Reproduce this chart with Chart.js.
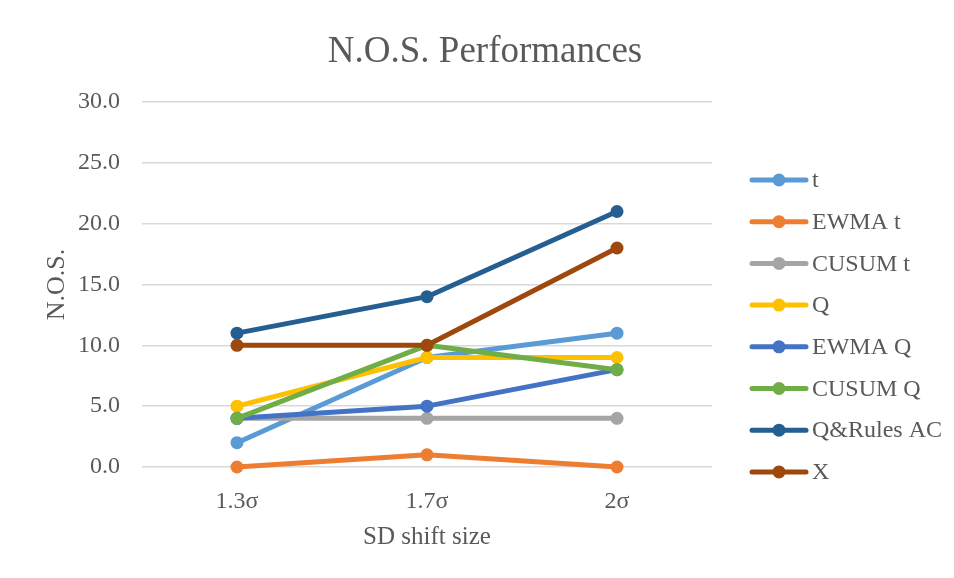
<!DOCTYPE html>
<html>
<head>
<meta charset="utf-8">
<script src="https://cdn.jsdelivr.net/npm/chart.js@4"></script>
<style>
  html, body { margin: 0; padding: 0; background: #fff; }
</style>
</head>
<body>
<canvas id="chartNos" width="954" height="578"></canvas>
<script>
const shiftSizes = ["1.3σ", "1.7σ", "2σ"];

const tValues = [2, 9, 11];
const ewmaTValues = [0, 1, 0];
const cusumTValues = [4, 4, 4];
const qValues = [5, 9, 9];
const ewmaQValues = [4, 5, 8];
const cusumQValues = [4, 10, 8];
const qRulesAcValues = [11, 14, 21];
const xValues = [10, 10, 18];

const seriesNames = ["t", "EWMA t", "CUSUM t", "Q", "EWMA Q", "CUSUM Q", "Q&Rules AC", "X"];
const seriesValues = [tValues, ewmaTValues, cusumTValues, qValues, ewmaQValues, cusumQValues, qRulesAcValues, xValues];
const seriesColors = ["#5B9BD5", "#ED7D31", "#A5A5A5", "#FFC000", "#4472C4", "#70AD47", "#255E91", "#9E480E"];

const serif = "'Liberation Serif', 'Times New Roman', serif";
const textColor = "#595959";
const gridColor = "#D9D9D9";

const whiteBackground = {
  id: "whiteBackground",
  beforeDraw(chart) {
    const { ctx, width, height } = chart;
    ctx.save();
    ctx.fillStyle = "#fff";
    ctx.fillRect(0, 0, width, height);
    ctx.restore();
  }
};

// legend to the right: line sample with a dot, then the name
const sideLegend = {
  id: "sideLegend",
  afterDraw(chart) {
    const { ctx } = chart;
    const x0 = chart.chartArea.right + 40;
    ctx.save();
    ctx.font = `24px ${serif}`;
    ctx.textBaseline = "middle";
    chart.data.datasets.forEach((ds, i) => {
      const y = 180 + i * 41.7;
      ctx.strokeStyle = ds.borderColor;
      ctx.lineWidth = 5;
      ctx.lineCap = "round";
      ctx.beginPath();
      ctx.moveTo(x0, y);
      ctx.lineTo(x0 + 54, y);
      ctx.stroke();
      ctx.fillStyle = ds.backgroundColor;
      ctx.beginPath();
      ctx.arc(x0 + 27, y, 6.5, 0, Math.PI * 2);
      ctx.fill();
      ctx.fillStyle = textColor;
      ctx.fillText(ds.label, x0 + 60, y + 1);
    });
    ctx.restore();
  }
};

const datasets = seriesNames.map((name, i) => ({
  label: name,
  data: seriesValues[i],
  borderColor: seriesColors[i],
  backgroundColor: seriesColors[i],
  borderWidth: 5,
  borderCapStyle: "round",
  borderJoinStyle: "round",
  pointRadius: 6.5,
  pointHoverRadius: 6.5,
  pointBorderWidth: 0,
  tension: 0,
  clip: false,
  order: -i  // later series sit on top
}));

new Chart(document.getElementById("chartNos"), {
  type: "line",
  data: { labels: shiftSizes, datasets },
  options: {
    responsive: false,
    animation: false,
    layout: { padding: { left: 16, right: 0, top: 0, bottom: 0 } },
    plugins: {
      legend: { display: false },
      tooltip: { enabled: false },
      title: {
        display: true,
        text: "N.O.S. Performances",
        color: textColor,
        font: { family: serif, size: 37, weight: "normal" },
        padding: { top: 30, bottom: 27.6 }
      }
    },
    scales: {
      x: {
        offset: true,
        grid: { display: false },
        border: { display: false },
        ticks: { color: textColor, font: { family: serif, size: 24 }, padding: 12 },
        title: {
          display: true,
          text: "SD shift size",
          color: textColor,
          font: { family: serif, size: 25 },
          padding: { top: 0, bottom: 26 }
        },
        afterFit(scale) { scale.height = 111; }
      },
      y: {
        min: 0,
        max: 30,
        grid: { color: gridColor, lineWidth: 1.5, drawTicks: false },
        border: { display: false },
        ticks: {
          stepSize: 5,
          color: textColor,
          font: { family: serif, size: 24 },
          padding: 22,
          callback: v => v.toFixed(1)
        },
        title: {
          display: true,
          text: "N.O.S.",
          color: textColor,
          font: { family: serif, size: 26 },
          padding: { top: 26, bottom: 0 }
        },
        afterFit(scale) { scale.width = 126; }
      },
      // empty column on the right that holds the legend
      legendSpace: {
        position: "right",
        grid: { display: false },
        border: { display: false },
        ticks: { display: false },
        afterFit(scale) { scale.width = 242; }
      }
    }
  },
  plugins: [whiteBackground, sideLegend]
});
</script>
</body>
</html>
